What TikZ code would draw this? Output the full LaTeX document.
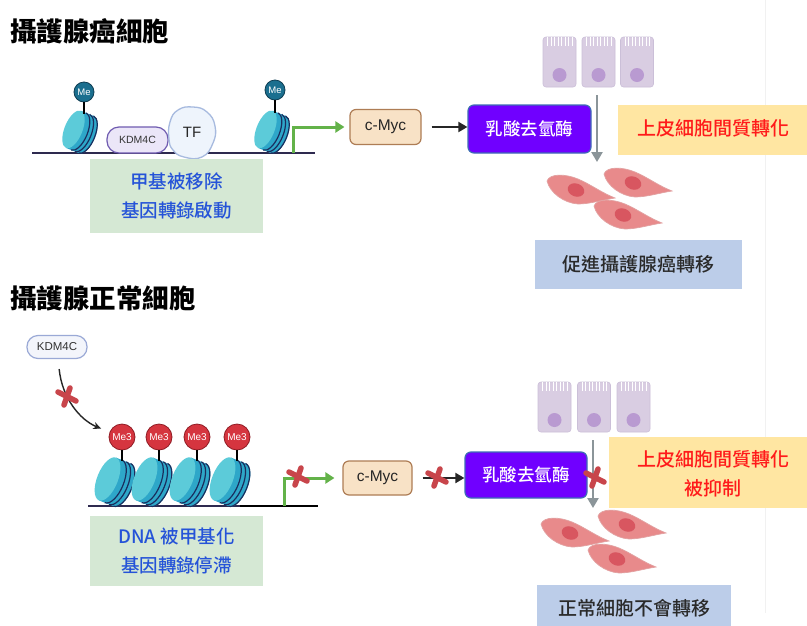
\documentclass[tikz,border=0pt]{standalone}
\usepackage{fontspec}
\setmainfont{Noto Sans CJK TC}
\newfontfamily\cjkmed{Noto Sans CJK TC Medium}
\newfontfamily\latin{Liberation Sans}
\usetikzlibrary{arrows.meta}

\definecolor{nucfront}{HTML}{5CCBD9}
\definecolor{nucside}{HTML}{2EA7C9}
\definecolor{nucwrap}{HTML}{1A2E5E}
\definecolor{dnaline}{HTML}{2E2A4F}
\definecolor{mefill}{HTML}{1B6F8F}
\definecolor{meedge}{HTML}{0E3D52}
\definecolor{methfill}{HTML}{D5353F}
\definecolor{methedge}{HTML}{8F1B23}
\definecolor{kdmfill}{HTML}{EBE6F8}
\definecolor{kdmedge}{HTML}{6F5BB0}
\definecolor{kdmfillb}{HTML}{F3F5FB}
\definecolor{kdmedgeb}{HTML}{9AA9D6}
\definecolor{tffill}{HTML}{EEF4FC}
\definecolor{tfedge}{HTML}{A7BADF}
\definecolor{boxgreen}{HTML}{D5E8D4}
\definecolor{txtblue}{HTML}{2553D8}
\definecolor{mycfill}{HTML}{F8E2C6}
\definecolor{mycedge}{HTML}{AE7D55}
\definecolor{ldhfill}{HTML}{7000FF}
\definecolor{ldhedge}{HTML}{3E6DB5}
\definecolor{boxyellow}{HTML}{FFE6A2}
\definecolor{txtred}{HTML}{FF1A1A}
\definecolor{boxblue}{HTML}{BCCDE9}
\definecolor{txtdark}{HTML}{2A2A2A}
\definecolor{epifill}{HTML}{D9CDE2}
\definecolor{epiedge}{HTML}{CBBFD8}
\definecolor{epinuc}{HTML}{B99AD1}
\definecolor{mesfill}{HTML}{E88A8B}
\definecolor{mesedge}{HTML}{E2A2A2}
\definecolor{mesnuc}{HTML}{D85660}
\definecolor{promgreen}{HTML}{63B249}
\definecolor{arrgray}{HTML}{8B9599}
\definecolor{xred}{HTML}{C8454B}
\definecolor{faintline}{HTML}{F1F1F1}

\newcommand\fsz[1]{\fontsize{#1}{#1}\selectfont}

\tikzset{
  % nucleosome core: barrel, front face, DNA wraps
  nuc/.pic={
    \fill[nucside] (-7,-20) -- (7,-20) arc[start angle=-90,end angle=90,x radius=9,y radius=20] -- (-7,20) -- cycle;
    \fill[nucfront] (-7,0) ellipse[x radius=9,y radius=20];
    \foreach \d in {-1.5,2.5,6.5}
      \draw[nucwrap, line width=1.2pt] (\d,-20) arc[start angle=-90,end angle=90,x radius=9,y radius=20];
  },
  % epithelial cell with microvilli on top
  epi/.pic={
    \filldraw[fill=epifill, draw=epiedge, line width=0.6pt, rounded corners=3pt] (-16.5,0) rectangle (16.5,50);
    \foreach \c in {-12,-8.5,...,12.5}
      \draw[white, line width=0.9pt] (\c,-0.5) -- (\c,9);
    \fill[epinuc] (0,38) circle[radius=7];
  },
  % spindle-shaped mesenchymal cell
  mes/.pic={
    \filldraw[fill=mesfill, draw=mesedge, line width=0.7pt]
      (-29,-9) .. controls (-26,-17) and (-10,-16) .. (2,-11)
      .. controls (14,-6) and (26,3) .. (39,8)
      .. controls (26,10) and (14,14) .. (2,14)
      .. controls (-12,13) and (-26,3) .. cycle;
    \fill[mesnuc, rotate=-20] (0,0) ellipse[x radius=8.5, y radius=6.5];
  },
  % red cross marking a blocked step
  redx/.pic={
    \draw[xred, line width=5.5pt, line cap=round] (-9,-4) -- (9,5) (-3,9) -- (3,-8);
  },
  title/.style={anchor=west, inner sep=0, font=\fsz{26.5}\bfseries},
  mecirc/.style={circle, fill=mefill, draw=meedge, line width=0.8pt, minimum size=20pt, inner sep=0, text=white, font=\latin\fsz{9.5}},
  methcirc/.style={circle, fill=methfill, draw=methedge, line width=0.8pt, minimum size=26pt, inner sep=0, text=white, font=\latin\fsz{10}},
  stick/.style={draw=black, line width=1.2pt},
  greenbox/.style={fill=boxgreen, minimum width=173pt, inner sep=0, align=center, text=txtblue, font=\fontsize{18.5}{29}\selectfont\cjkmed},
  mycbox/.style={fill=mycfill, draw=mycedge, line width=1.2pt, rounded corners=6pt, inner sep=0, text=black!85, font=\latin\fsz{15.5}},
  ldhbox/.style={fill=ldhfill, draw=ldhedge, line width=1.2pt, rounded corners=6pt, inner sep=0, text=white, font=\cjkmed\fsz{17.5}},
  yellowbox/.style={fill=boxyellow, inner sep=0},
  redtext/.style={inner sep=0, align=center, text=txtred, font=\fontsize{19}{29}\selectfont\cjkmed},
  bluebox/.style={fill=boxblue, inner sep=0, text=txtdark, font=\cjkmed\fsz{19}},
  dna/.style={draw=dnaline, line width=1.3pt},
  greenarr/.style={draw=promgreen, line width=3pt, -{Triangle[length=9pt,width=11pt]}},
  blkarr/.style={draw=black!85, line width=2pt, -{Triangle[length=9pt,width=10pt]}},
  grayarr/.style={draw=arrgray, line width=2.6pt, -{Triangle[length=10pt,width=11pt]}},
}

\begin{document}
\begin{tikzpicture}[x=1pt,y=-1pt]
\useasboundingbox (0,0) rectangle (807,625);
\fill[white] (0,0) rectangle (807,625);
\draw[faintline, line width=0.8pt] (765,0) -- (765,613);

% ---------------- cancer cells ----------------
\node[title] (t1) at (10,31) {攝護腺癌細胞};

% chromatin with demethylated promoter
\draw[dna] (32,153) -- (315,153);
\pic[rotate=-22] at (80,132) {nuc};
\pic[rotate=-22] at (272,132) {nuc};
\node[mecirc] (meA) at (84,92) {Me};
\node[mecirc] (meB) at (275,90) {Me};
\draw[stick] (meA.south) -- (84,114);
\draw[stick] (meB.south) -- (275,113);

\node[fill=kdmfill, draw=kdmedge, line width=1.2pt, rounded corners=12pt, minimum width=61pt, minimum height=26pt, inner sep=0, font=\latin\fsz{10.5}, text=black!80] (kdmA) at (137.5,140) {KDM4C};
\filldraw[fill=tffill, draw=tfedge, line width=1.3pt]
  plot[smooth cycle, tension=0.8] coordinates {(169,139) (170,122) (178,110) (193,107) (207,112) (215,126) (213,143) (202,157) (184,157) (173,150)};
\node[inner sep=0, font=\latin\fsz{15}, text=black!85] (tf) at (192,132) {TF};

\node[greenbox, minimum height=74pt] (gA) at (176.5,196) {甲基被移除\\基因轉錄啟動};

\coordinate (promA) at (293,153);
\node[mycbox, minimum width=71pt, minimum height=35pt] (mycA) at (385.5,127) {c-Myc};
\node[ldhbox, minimum width=123pt, minimum height=48pt] (ldhA) at (529.5,129) {乳酸去氫酶};
\draw[greenarr, shorten >=5pt] (promA) |- (mycA.west);
\draw[blkarr, shorten <=10pt] (mycA.east) -- (mycA.east -| ldhA.west);

\pic at (559.5,37) {epi};
\pic at (598.5,37) {epi};
\pic at (637,37) {epi};
\coordinate (epiA) at (597,95);
\coordinate (mesA) at (597,162);
\draw[grayarr] (epiA) -- (mesA);

\node[yellowbox, minimum width=189pt, minimum height=50pt] (yA) at (712.5,130) {};
\node[redtext] (emtA) at (713,128) {上皮細胞間質轉化};

\pic at (576,190) {mes};
\pic at (633,183) {mes};
\pic at (623,215) {mes};

\node[bluebox, minimum width=207pt, minimum height=49pt] (bA) at (638.5,264.5) {促進攝護腺癌轉移};

% ---------------- normal cells ----------------
\node[title] (t2) at (10,298) {攝護腺正常細胞};

\node[fill=kdmfillb, draw=kdmedgeb, line width=1.2pt, rounded corners=11pt, minimum width=60pt, minimum height=23pt, inner sep=0, font=\latin\fsz{11.5}, text=black!80] (kdmB) at (57,347) {KDM4C};

% methylated, compacted chromatin
\draw[dna] (88,506) -- (240,506);
\draw[draw=black, line width=1.3pt] (240,506) -- (318,506);
\foreach \sx in {122,159,197,237}
  \pic[rotate=-22, scale=1.15] at (\sx-7,482) {nuc};
\foreach \sx/\nm in {122/a,159/b,197/c,237/d} {
  \node[methcirc] (me3\nm) at (\sx,437) {Me3};
  \draw[stick] (me3\nm.south) -- (\sx,461);
}

\draw[black!85, line width=1.4pt, -{Stealth[length=8pt,width=7pt]}, shorten <=10pt, shorten >=9pt]
  (kdmB) .. controls (62,398) and (80,420) .. (me3a);
\pic at (67,396) {redx};

\node[greenbox, minimum height=70pt] (gB) at (176.5,551) {DNA 被甲基化\\基因轉錄停滯};

\coordinate (promB) at (284,506);
\node[mycbox, minimum width=69pt, minimum height=34pt] (mycB) at (377.5,478) {c-Myc};
\node[ldhbox, minimum width=122pt, minimum height=46pt] (ldhB) at (526,475) {乳酸去氫酶};
\draw[greenarr, shorten >=8pt] (promB) |- (mycB.west);
\pic at (298,476) {redx};
\draw[blkarr, shorten <=10pt] (mycB.east) -- (mycB.east -| ldhB.west);
\pic at (437,477) {redx};

\pic at (554.5,382) {epi};
\pic at (594,382) {epi};
\pic at (633.5,382) {epi};
\coordinate (epiB) at (593,440);
\coordinate (mesB) at (593,508);
\draw[grayarr] (epiB) -- (mesB);
\pic at (595,477) {redx};

\node[yellowbox, minimum width=198pt, minimum height=71pt] (yB) at (708,472.5) {};
\node[redtext] (emtB) at (713,473.5) {上皮細胞間質轉化\\被抑制};

\pic at (570,533) {mes};
\pic at (627,525) {mes};
\pic at (617,559) {mes};

\node[bluebox, minimum width=194pt, minimum height=47pt] (bB) at (634,608.5) {正常細胞不會轉移};
\end{tikzpicture}
\end{document}
